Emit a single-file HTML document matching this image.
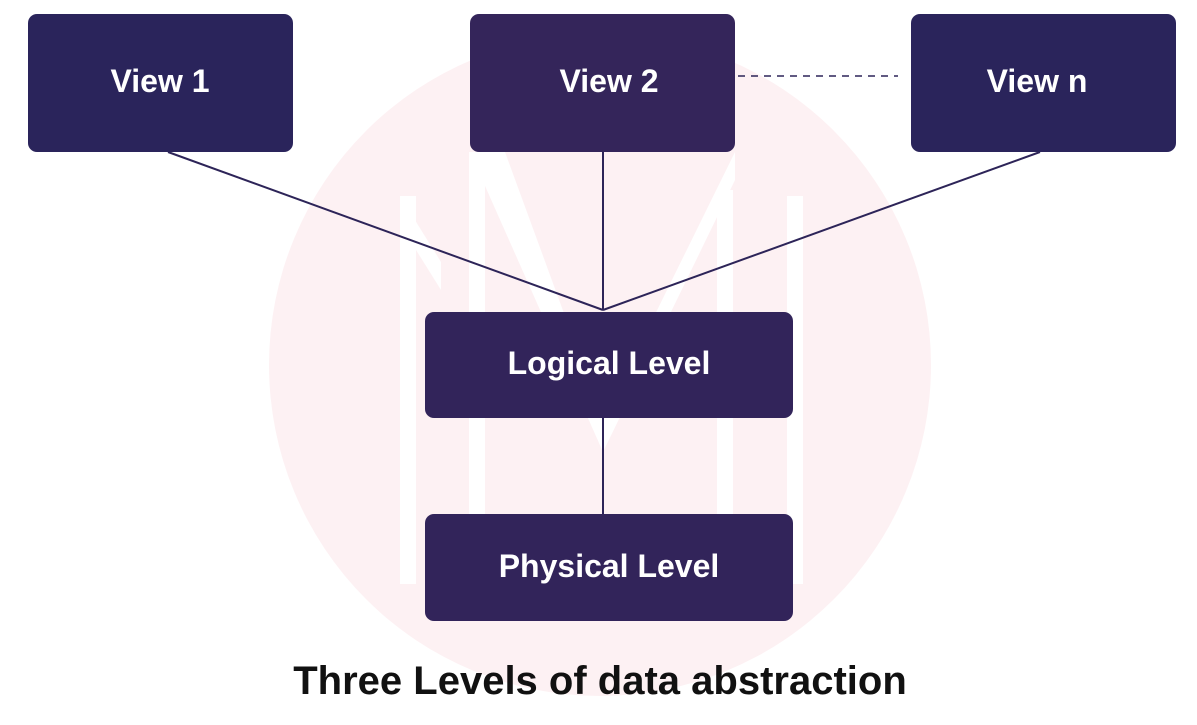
<!DOCTYPE html>
<html><head><meta charset="utf-8"><style>
body{margin:0;background:#fff;}
svg{display:block;}
text{font-family:"Liberation Sans",sans-serif;font-weight:bold;}
</style></head><body>
<svg width="1197" height="725" viewBox="0 0 1197 725">
<circle cx="600" cy="365" r="331" fill="#fdf1f3"/>
<g fill="#ffffff">
<rect x="400" y="196" width="16" height="388"/>
<polygon points="400,196 441,262 441,290 416,250"/>
<rect x="469" y="152" width="16" height="432"/>
<rect x="717" y="190" width="16" height="394"/>
<rect x="787" y="196" width="16" height="388"/>
<polygon points="470,152 505,152 603,420 603,452"/>
<polygon points="735,152 735,180 603,452 603,420"/>
</g>
<g stroke="#2d2458" stroke-width="2" fill="none">
<line x1="168" y1="152" x2="603" y2="310"/>
<line x1="603" y1="152" x2="603" y2="310"/>
<line x1="1040" y1="152" x2="603" y2="310"/>
<line x1="603" y1="418" x2="603" y2="514"/>
<line x1="738" y1="76" x2="898" y2="76" stroke-dasharray="7 6" stroke-width="1.5"/>
</g>
<rect x="28" y="14" width="265" height="138" rx="9" fill="#2a245b"/>
<rect x="470" y="14" width="265" height="138" rx="9" fill="#34255a"/>
<rect x="911" y="14" width="265" height="138" rx="9" fill="#2a245b"/>
<rect x="425" y="312" width="368" height="106" rx="9" fill="#32245a"/>
<rect x="425" y="514" width="368" height="107" rx="9" fill="#32245a"/>
<g fill="#fff" font-size="32" text-anchor="middle">
<text x="160" y="92">View 1</text>
<text x="609" y="92">View 2</text>
<text x="1037" y="92">View n</text>
<text x="609" y="374">Logical Level</text>
<text x="609" y="577">Physical Level</text>
</g>
<text x="600" y="694" font-size="40" text-anchor="middle" fill="#111">Three Levels of data abstraction</text>
</svg>
</body></html>
